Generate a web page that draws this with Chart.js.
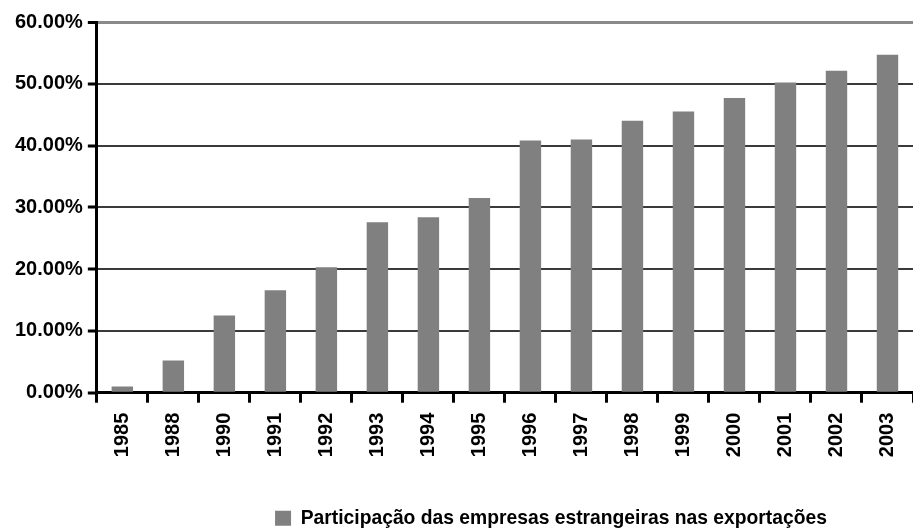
<!DOCTYPE html>
<html>
<head>
<meta charset="utf-8">
<script src="https://cdn.jsdelivr.net/npm/chart.js@4"></script>
<style>
  html, body { margin: 0; padding: 0; background: #fff; }
  #wrap { width: 913px; height: 529px; }
</style>
</head>
<body>
<div id="wrap"><canvas id="graph"></canvas></div>
<script>
// years on the x axis
var years = ['1985','1988','1990','1991','1992','1993','1994','1995','1996','1997','1998','1999','2000','2001','2002','2003'];
// share of foreign companies in exports (%)
var share = [1.0, 5.2, 12.5, 16.6, 20.3, 27.6, 28.4, 31.5, 40.8, 41.0, 44.0, 45.5, 47.7, 50.2, 52.1, 54.7];
var seriesLabel = 'Participação das empresas estrangeiras nas exportações';
var yTicks = [0, 10, 20, 30, 40, 50, 60];

Chart.defaults.font.family = "'Liberation Sans', Arial, sans-serif";
Chart.defaults.font.weight = 'bold';
Chart.defaults.color = '#000';

// the legend in the original sits right of centre and near the bottom edge
var legendShift = {
    id: 'legendShift',
    afterLayout: function (chart) {
        var lg = chart.legend;
        lg.left += 88;
        lg.right += 88;
        lg.top += 9;
        lg.bottom += 9;
    }
};

new Chart(document.getElementById('graph'), {
    type: 'bar',
    data: {
        labels: years,
        datasets: [{
            label: seriesLabel,
            data: share,
            backgroundColor: '#808080',
            borderWidth: 0,
            barPercentage: 0.42,
            categoryPercentage: 1
        }]
    },
    options: {
        responsive: true,
        maintainAspectRatio: false,
        animation: false,
        // plot runs right up to (and a bit past) the right edge in the original
        layout: { padding: { left: 10, right: -3, top: 22, bottom: 0 } },
        plugins: {
            tooltip: { enabled: false },
            legend: {
                position: 'bottom',
                labels: {
                    boxWidth: 16,
                    boxHeight: 15,
                    padding: 1,
                    font: { size: 19.3, weight: 'bold' }
                }
            }
        },
        scales: {
            x: {
                offset: true,
                grid: {
                    offset: true,
                    drawOnChartArea: false,
                    tickLength: 10,
                    tickWidth: 3,
                    tickColor: '#000'
                },
                border: { color: '#000', width: 3 },
                ticks: {
                    minRotation: 90,
                    maxRotation: 90,
                    padding: 10,
                    font: { size: 20, weight: 'bold' }
                },
                afterFit: function (scale) {
                    scale.height = 106;
                    scale.paddingRight = 0;
                }
            },
            y: {
                min: 0,
                max: 60,
                afterBuildTicks: function (scale) {
                    scale.ticks = yTicks.map(function (v) { return { value: v }; });
                },
                grid: {
                    color: function (c) { return c.tick && c.tick.value === 60 ? '#8a8a8a' : '#3a3a3a'; },
                    lineWidth: function (c) { return c.tick && c.tick.value === 60 ? 3 : 2; },
                    tickLength: 9,
                    tickWidth: 3,
                    tickColor: '#000'
                },
                border: { color: '#000', width: 3 },
                ticks: {
                    padding: 5,
                    font: { size: 20, weight: 'bold' },
                    callback: function (v) { return Number(v).toFixed(2) + '%'; }
                }
            }
        }
    },
    plugins: [legendShift]
});
</script>
</body>
</html>
